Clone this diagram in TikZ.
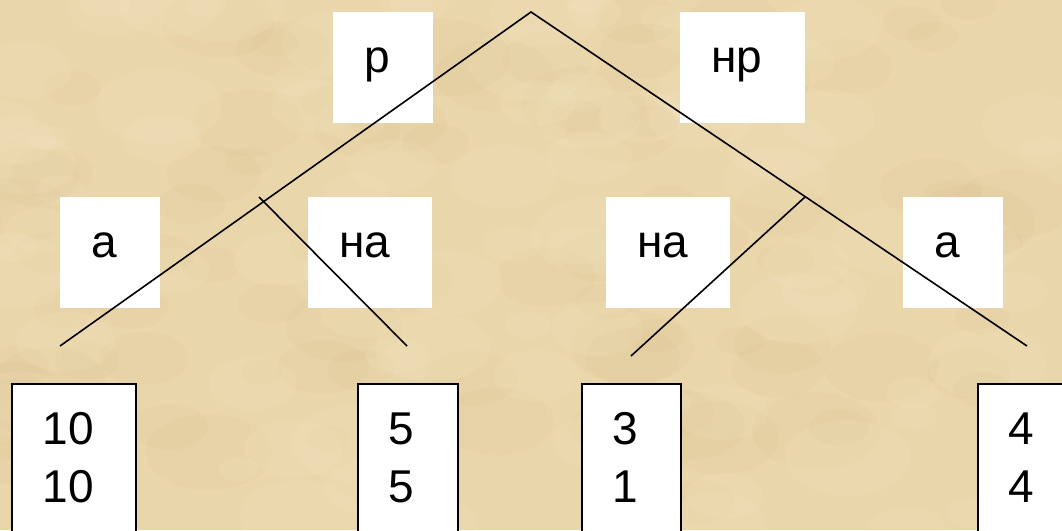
\documentclass[tikz,border=0pt]{standalone}
\usepackage{fontspec}
\setmainfont{Liberation Sans}
\definecolor{parch}{RGB}{234,214,171}
\definecolor{parchdark}{RGB}{212,186,136}
\definecolor{parchlight}{RGB}{247,234,202}
\begin{document}
\begin{tikzpicture}[x=1pt,y=-1pt,
  lbl/.style={fill=white, anchor=north west, inner xsep=31pt, inner ysep=0pt,
    minimum height=111pt, text height=24.5pt, text depth=15.5pt,
    font=\fontsize{46}{58}\selectfont, align=left},
  leaf/.style={draw=black, line width=1.5pt, fill=white, anchor=north west,
    inner xsep=31pt, inner ysep=29pt, align=left,
    font=\fontsize{46}{58}\selectfont},
  edge/.style={draw=black, line width=1.6pt}]
\clip (0,0) rectangle (1062,530);
\fill[parch] (0,0) rectangle (1062,530);
% paper texture
\pgfmathsetseed{11}
\foreach \i in {1,...,90}{
  \pgfmathsetmacro{\px}{rnd*1062}
  \pgfmathsetmacro{\py}{rnd*530}
  \pgfmathsetmacro{\pr}{20+rnd*45}
  \fill[parchdark, opacity=0.10] (\px,\py) ellipse ({\pr pt} and {0.6*\pr pt});
}
\foreach \i in {1,...,90}{
  \pgfmathsetmacro{\px}{rnd*1062}
  \pgfmathsetmacro{\py}{rnd*530}
  \pgfmathsetmacro{\pr}{20+rnd*45}
  \fill[parchlight, opacity=0.14] (\px,\py) ellipse ({\pr pt} and {0.6*\pr pt});
}
% label boxes
\node[lbl, text width=38pt] (r)   at (333,12)  {р};
\node[lbl, text width=63pt] (nr)  at (680,12)  {нр};
\node[lbl, text width=38pt] (a1)  at (60,197)  {а};
\node[lbl, text width=62pt] (na1) at (308,197) {на};
\node[lbl, text width=62pt] (na2) at (606,197) {на};
\node[lbl, text width=38pt] (a2)  at (903,197) {а};
% leaf boxes
\node[leaf, text width=62pt] (o1) at (11,383)  {10\\10};
\node[leaf, text width=38pt] (o2) at (357,383) {5\\5};
\node[leaf, text width=37pt] (o3) at (581,383) {3\\1};
\node[leaf, text width=62pt] (o4) at (977,383) {4\\4};
% tree points
\coordinate (top) at (531,12);
\coordinate (lend) at (60,346);
\coordinate (lbr) at (259,197);
\coordinate (lbrend) at (407,346);
\coordinate (rend) at (1027,346);
\coordinate (rbr) at (805,197);
\coordinate (rbrend) at (631,356);
\draw[edge] (lend) -- (top) -- (rend);
\draw[edge] (lbr) -- (lbrend);
\draw[edge] (rbr) -- (rbrend);
\end{tikzpicture}
\end{document}
